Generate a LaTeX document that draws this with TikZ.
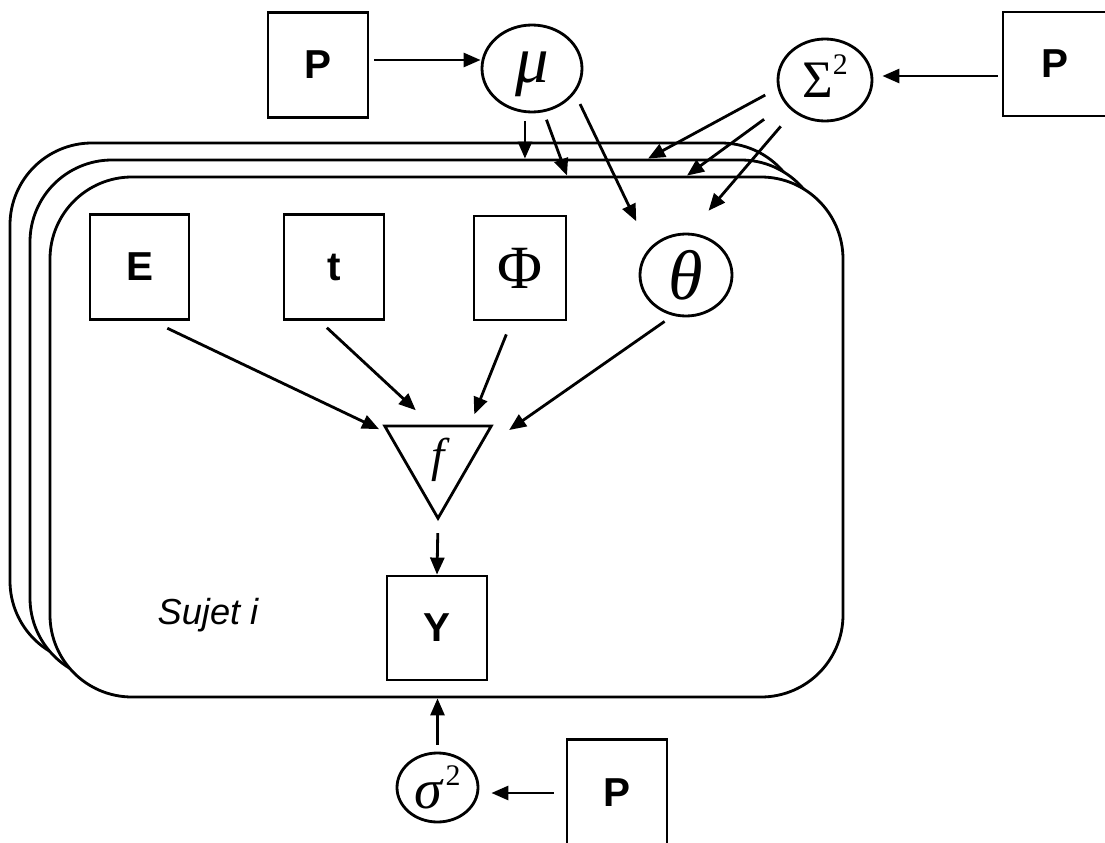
\documentclass[tikz,border=0pt]{standalone}
\usepackage{fontspec}
\newfontfamily\arial{Liberation Sans}
\newfontfamily\grk{Liberation Serif}
\usetikzlibrary{arrows.meta,
    shapes.geometric,
    positioning}

\tikzset{
    box/.style={draw, inner sep=0pt, minimum width=1cm, minimum height=1.05cm,
        font=\arial\bfseries\fontsize{11.5}{13}\selectfont},
    var/.style={draw, ellipse, inner sep=0pt},
    plate/.style={draw, fill=white, rounded corners=0.82cm,
        minimum width=7.93cm, minimum height=5.2cm},
    arr/.style={-{Triangle[length=0.17cm,width=0.14cm]}}
}

\begin{document}
\begin{tikzpicture}[line width=0.8pt]
    \clip (0,0) rectangle (11.05,-8.43);
    % plates, back to front
    \node[plate] (plb) at (4.065,-4.03) {};
    \node[plate] (plm) at (4.265,-4.20) {};
    \node[plate] (plf) at (4.465,-4.37) {};
    % top
    \node[box] (pmu) at (3.18,-0.65) {P};
    \node[var, minimum width=1cm, minimum height=0.87cm] (mu) at (5.32,-0.685)
        {\raisebox{-0.06cm}[\height][\depth]{\grk\itshape\fontsize{19}{20}\selectfont μ}};
    \node[var, minimum width=0.94cm, minimum height=0.82cm] (Sig) at (8.25,-0.80)
        {\raisebox{0.04cm}[\height][\depth]{\grk\fontsize{15}{16}\selectfont Σ\raisebox{6.5pt}{\fontsize{8.5}{9}\selectfont 2}}};
    \node[box, minimum width=1.04cm, minimum height=1.04cm] (pSig) at (10.55,-0.64) {P};
    % subject
    \node[box, minimum width=0.99cm] (E) at (1.395,-2.67) {E};
    \node[box] (t) at (3.34,-2.67) {t};
    \node[box, minimum width=0.92cm, minimum height=1.04cm,
        font=\grk\fontsize{17.5}{19}\selectfont] (Phi) at (5.20,-2.68) {Φ};
    \node[var, minimum width=0.92cm, minimum height=0.82cm] (theta) at (6.86,-2.75)
        {\grk\itshape\fontsize{20}{22}\selectfont θ};
    \node[draw, regular polygon, regular polygon sides=3, shape border rotate=180,
        minimum size=1.11cm, inner sep=0pt] (f) at (4.38,-4.567)
        {\raisebox{-0.03cm}[\height][\depth]{\grk\itshape\fontsize{13.5}{14}\selectfont f}};
    \node[box, minimum height=1.04cm] (Y) at (4.37,-6.28) {Y};
    \node (sujet) at (2.08,-6.15) {\arial\itshape\fontsize{10.3}{12}\selectfont Sujet i};
    % bottom
    \node[var, minimum width=0.81cm, minimum height=0.69cm] (sigma) at (4.375,-7.875)
        {\grk\fontsize{16}{17}\selectfont\textit{σ}\kern0.5pt\raisebox{6.5pt}{\fontsize{8.5}{9}\selectfont 2}};
    \node[box, minimum height=1.07cm] (pbot) at (6.17,-7.93) {P};
    % arrows
    \draw[arr, shorten <=0.05cm] ([yshift=0.05cm]pmu.east) -- ([yshift=0.05cm]pmu.east -| mu.west);
    \draw[arr, shorten <=0.04cm, shorten >=0.09cm] ([yshift=0.04cm]Sig.east -| pSig.west) -- ([yshift=0.04cm]Sig.east);
    \draw[arr, shorten <=0.08cm] (mu.-99) -- (mu.-99 |- plm.north);
    \draw[arr, shorten <=0.08cm] (mu.-75) -- ([xshift=1.205cm]plf.north);
    \draw[arr, shorten <=0.12cm, shorten >=0.30cm] (mu.-30) -- (theta.144);
    \draw[arr, shorten <=0.14cm] (Sig.-170) -- ([xshift=2.215cm]plm.north);
    \draw[arr, shorten <=0.26cm] (Sig.-149) -- ([xshift=2.405cm]plf.north);
    \draw[arr, shorten <=0.19cm, shorten >=0.29cm] (Sig.-135) -- (theta.85);
    \draw[arr, shorten <=0.17cm, shorten >=0.09cm] (E.-77) -- (f.155);
    \draw[arr, shorten <=0.10cm, shorten >=0.21cm] (t.-105) -- (f.102);
    \draw[arr, shorten <=0.14cm, shorten >=0.11cm] (Phi.-99) -- (f.45);
    \draw[arr, shorten <=0.10cm, shorten >=0.38cm] (theta.-108) -- (f.7);
    \draw[arr, shorten <=0.12cm] (f.corner 1) -- (Y.north);
    \draw[arr, shorten <=0.07cm] (sigma.north) -- (sigma.north |- plf.south);
    \draw[arr, shorten <=0.12cm, shorten >=0.12cm] (pbot.west) -- (pbot.west -| sigma.east);
\end{tikzpicture}
\end{document}
